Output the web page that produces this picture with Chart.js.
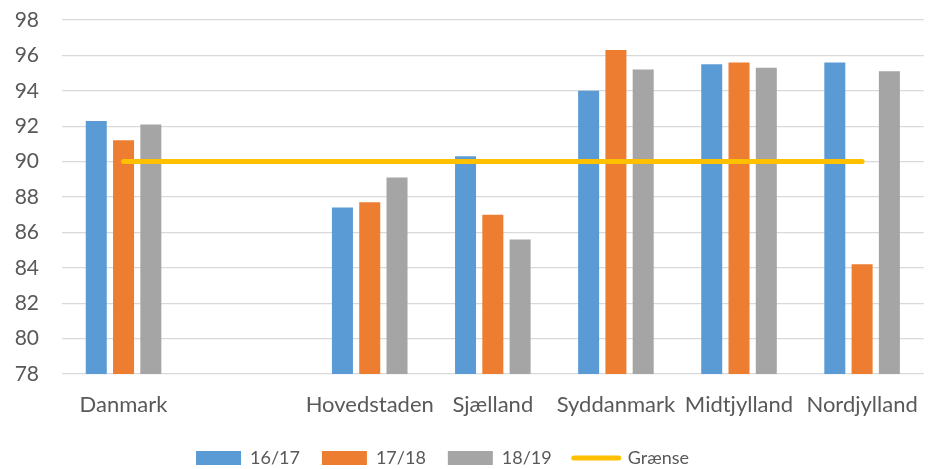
<!DOCTYPE html>
<html>
<head>
<meta charset="utf-8">
<script src="https://cdn.jsdelivr.net/npm/chart.js@4"></script>
<style>
  html, body { margin: 0; padding: 0; background: #fff; }
  #wrap { width: 928px; height: 469px; }
</style>
</head>
<body>
<div id="wrap"><canvas id="chart"></canvas></div>
<script>
// Data
const regions = ['Danmark', '', 'Hovedstaden', 'Sjælland', 'Syddanmark', 'Midtjylland', 'Nordjylland'];
const y1617 = [92.3, null, 87.4, 90.3, 94.0, 95.5, 95.6];
const y1718 = [91.2, null, 87.7, 87.0, 96.3, 95.6, 84.2];
const y1819 = [92.1, null, 89.1, 85.6, 95.2, 95.3, 95.1];
const graense = [90, 90, 90, 90, 90, 90, 90];
const yTicks = [78, 80, 82, 84, 86, 88, 90, 92, 94, 96, 98];

Chart.defaults.font.family = 'Lato, "Open Sans", sans-serif';
Chart.defaults.font.size = 21;
Chart.defaults.color = '#595959';

const bar = (label, data, color) => ({
    type: 'bar',
    label: label,
    data: data,
    backgroundColor: color,
    categoryPercentage: 0.665,
    barPercentage: 0.77,
    order: 1
});

// legend sits a bit left of centre in the original
const shiftLegend = {
    id: 'shiftLegend',
    afterLayout: (chart) => {
        chart.legend.left -= 20;
        chart.legend.right -= 20;
    }
};

new Chart('chart', {
    data: {
        labels: regions,
        datasets: [
            bar('16/17', y1617, '#5B9BD5'),
            bar('17/18', y1718, '#ED7D31'),
            bar('18/19', y1819, '#A5A5A5'),
            {
                type: 'line',
                label: 'Grænse',
                data: graense,
                borderColor: '#FFC000',
                backgroundColor: '#FFC000',
                borderWidth: 5,
                borderCapStyle: 'round',
                pointRadius: 0,
                order: 0
            }
        ]
    },
    plugins: [shiftLegend],
    options: {
        responsive: true,
        maintainAspectRatio: false,
        animation: false,
        layout: { padding: { top: 20, right: 3, left: 0, bottom: -8 } },
        plugins: {
            tooltip: { enabled: false },
            legend: {
                position: 'bottom',
                labels: {
                    font: { size: 18 },
                    usePointStyle: true,
                    pointStyleWidth: 45,
                    boxHeight: 14,
                    padding: 22,
                    color: '#595959',
                    sort: (a, b) => a.datasetIndex - b.datasetIndex,
                    generateLabels: (chart) => {
                        const items = Chart.defaults.plugins.legend.labels.generateLabels(chart);
                        items.forEach((it) => {
                            if (chart.data.datasets[it.datasetIndex].type === 'line') {
                                it.pointStyle = 'line';
                                it.lineWidth = 5;
                                it.lineCap = 'round';
                                it.strokeStyle = '#FFC000';
                            } else {
                                it.pointStyle = 'rect';
                                it.lineWidth = 0;
                            }
                        });
                        return items;
                    }
                }
            }
        },
        scales: {
            x: {
                grid: { display: false },
                border: { display: false },
                ticks: { font: { size: 22 }, padding: 10, maxRotation: 0, autoSkip: false },
                afterFit: (s) => { s.height = 53; }
            },
            y: {
                min: 78,
                max: 98,
                afterBuildTicks: (s) => { s.ticks = yTicks.map(v => ({ value: v })); },
                grid: { color: '#D9D9D9', lineWidth: 1.3, drawTicks: false },
                border: { display: false },
                ticks: { padding: 23 },
                afterFit: (s) => {
                    s.width = 62;
                    s.paddingTop = 0;
                    s.paddingBottom = 0;
                }
            }
        }
    }
});
</script>
</body>
</html>
